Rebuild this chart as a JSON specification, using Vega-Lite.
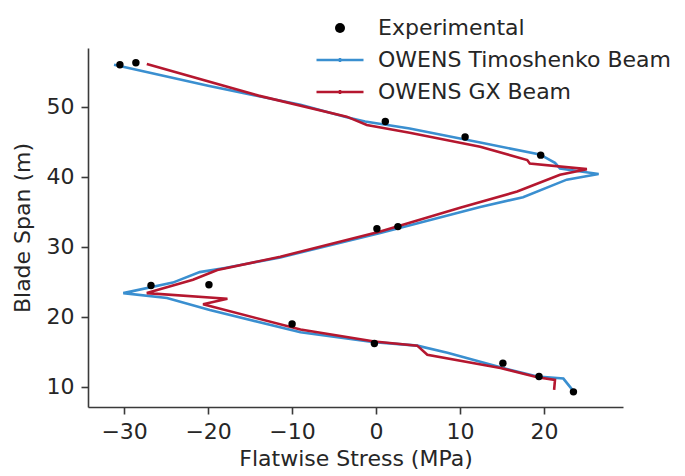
{
  "$schema": "https://vega.github.io/schema/vega-lite/v6.json",
  "width": 535,
  "height": 359,
  "autosize": "none",
  "padding": {"left": 88, "top": 48, "right": 62, "bottom": 69},
  "background": "white",
  "config": {
    "view": {"stroke": null},
    "font": "DejaVu Sans",
    "axis": {
      "grid": false,
      "domainColor": "#3a3a3a",
      "domainWidth": 1.6,
      "tickColor": "#3a3a3a",
      "tickWidth": 1.6,
      "tickSize": 7,
      "labelFontSize": 22,
      "labelColor": "#262626",
      "labelPadding": 7,
      "titleFontSize": 22,
      "titleFontWeight": "normal",
      "titleColor": "#262626"
    }
  },
  "datasets": {
    "exp": [
      {"stress": -30.5, "span": 56.0, "series": "Experimental"},
      {"stress": -28.6, "span": 56.3, "series": "Experimental"},
      {"stress": 1.1, "span": 47.9, "series": "Experimental"},
      {"stress": 10.6, "span": 45.7, "series": "Experimental"},
      {"stress": 19.6, "span": 43.1, "series": "Experimental"},
      {"stress": 0.1, "span": 32.6, "series": "Experimental"},
      {"stress": 2.6, "span": 32.9, "series": "Experimental"},
      {"stress": -26.8, "span": 24.5, "series": "Experimental"},
      {"stress": -19.9, "span": 24.6, "series": "Experimental"},
      {"stress": -10.0, "span": 19.0, "series": "Experimental"},
      {"stress": -0.2, "span": 16.2, "series": "Experimental"},
      {"stress": 15.1, "span": 13.4, "series": "Experimental"},
      {"stress": 19.4, "span": 11.5, "series": "Experimental"},
      {"stress": 23.5, "span": 9.3, "series": "Experimental"}
    ],
    "sim": [
      {"i": 1, "stress": -31.2, "span": 56.0, "series": "OWENS Timoshenko Beam"},
      {"i": 2, "stress": -20.0, "span": 53.0, "series": "OWENS Timoshenko Beam"},
      {"i": 3, "stress": -9.0, "span": 50.3, "series": "OWENS Timoshenko Beam"},
      {"i": 4, "stress": -3.5, "span": 48.5, "series": "OWENS Timoshenko Beam"},
      {"i": 5, "stress": -1.3, "span": 47.9, "series": "OWENS Timoshenko Beam"},
      {"i": 6, "stress": 4.0, "span": 46.9, "series": "OWENS Timoshenko Beam"},
      {"i": 7, "stress": 12.4, "span": 44.9, "series": "OWENS Timoshenko Beam"},
      {"i": 8, "stress": 19.5, "span": 43.2, "series": "OWENS Timoshenko Beam"},
      {"i": 9, "stress": 21.3, "span": 42.0, "series": "OWENS Timoshenko Beam"},
      {"i": 10, "stress": 21.9, "span": 41.2, "series": "OWENS Timoshenko Beam"},
      {"i": 11, "stress": 26.5, "span": 40.4, "series": "OWENS Timoshenko Beam"},
      {"i": 12, "stress": 22.7, "span": 39.6, "series": "OWENS Timoshenko Beam"},
      {"i": 13, "stress": 17.5, "span": 37.1, "series": "OWENS Timoshenko Beam"},
      {"i": 14, "stress": 12.4, "span": 35.7, "series": "OWENS Timoshenko Beam"},
      {"i": 15, "stress": 0.5, "span": 32.0, "series": "OWENS Timoshenko Beam"},
      {"i": 16, "stress": -11.4, "span": 28.5, "series": "OWENS Timoshenko Beam"},
      {"i": 17, "stress": -18.0, "span": 27.0, "series": "OWENS Timoshenko Beam"},
      {"i": 18, "stress": -21.0, "span": 26.4, "series": "OWENS Timoshenko Beam"},
      {"i": 19, "stress": -24.2, "span": 24.9, "series": "OWENS Timoshenko Beam"},
      {"i": 20, "stress": -30.1, "span": 23.4, "series": "OWENS Timoshenko Beam"},
      {"i": 21, "stress": -24.9, "span": 22.7, "series": "OWENS Timoshenko Beam"},
      {"i": 22, "stress": -19.8, "span": 21.0, "series": "OWENS Timoshenko Beam"},
      {"i": 23, "stress": -9.0, "span": 17.8, "series": "OWENS Timoshenko Beam"},
      {"i": 24, "stress": -0.2, "span": 16.4, "series": "OWENS Timoshenko Beam"},
      {"i": 25, "stress": 4.9, "span": 15.9, "series": "OWENS Timoshenko Beam"},
      {"i": 26, "stress": 8.5, "span": 14.9, "series": "OWENS Timoshenko Beam"},
      {"i": 27, "stress": 14.8, "span": 12.8, "series": "OWENS Timoshenko Beam"},
      {"i": 28, "stress": 19.2, "span": 11.5, "series": "OWENS Timoshenko Beam"},
      {"i": 29, "stress": 22.3, "span": 11.2, "series": "OWENS Timoshenko Beam"},
      {"i": 30, "stress": 23.5, "span": 9.4, "series": "OWENS Timoshenko Beam"},
      {"i": 1, "stress": -27.3, "span": 56.1, "series": "OWENS GX Beam"},
      {"i": 2, "stress": -14.0, "span": 51.6, "series": "OWENS GX Beam"},
      {"i": 3, "stress": -3.5, "span": 48.6, "series": "OWENS GX Beam"},
      {"i": 4, "stress": -1.1, "span": 47.4, "series": "OWENS GX Beam"},
      {"i": 5, "stress": 4.0, "span": 46.3, "series": "OWENS GX Beam"},
      {"i": 6, "stress": 12.4, "span": 44.3, "series": "OWENS GX Beam"},
      {"i": 7, "stress": 18.0, "span": 42.4, "series": "OWENS GX Beam"},
      {"i": 8, "stress": 18.3, "span": 41.9, "series": "OWENS GX Beam"},
      {"i": 9, "stress": 25.1, "span": 41.1, "series": "OWENS GX Beam"},
      {"i": 10, "stress": 21.9, "span": 40.3, "series": "OWENS GX Beam"},
      {"i": 11, "stress": 16.8, "span": 37.9, "series": "OWENS GX Beam"},
      {"i": 12, "stress": 10.0, "span": 35.6, "series": "OWENS GX Beam"},
      {"i": 13, "stress": 0.5, "span": 32.2, "series": "OWENS GX Beam"},
      {"i": 14, "stress": -11.4, "span": 28.6, "series": "OWENS GX Beam"},
      {"i": 15, "stress": -18.9, "span": 26.7, "series": "OWENS GX Beam"},
      {"i": 16, "stress": -21.8, "span": 25.3, "series": "OWENS GX Beam"},
      {"i": 17, "stress": -27.3, "span": 23.4, "series": "OWENS GX Beam"},
      {"i": 18, "stress": -17.7, "span": 22.6, "series": "OWENS GX Beam"},
      {"i": 19, "stress": -20.6, "span": 21.8, "series": "OWENS GX Beam"},
      {"i": 20, "stress": -9.0, "span": 18.2, "series": "OWENS GX Beam"},
      {"i": 21, "stress": -0.2, "span": 16.5, "series": "OWENS GX Beam"},
      {"i": 22, "stress": 4.9, "span": 15.9, "series": "OWENS GX Beam"},
      {"i": 23, "stress": 6.1, "span": 14.6, "series": "OWENS GX Beam"},
      {"i": 24, "stress": 14.8, "span": 12.7, "series": "OWENS GX Beam"},
      {"i": 25, "stress": 19.2, "span": 11.4, "series": "OWENS GX Beam"},
      {"i": 26, "stress": 21.3, "span": 11.0, "series": "OWENS GX Beam"},
      {"i": 27, "stress": 21.2, "span": 9.6, "series": "OWENS GX Beam"}
    ]
  },
  "encoding": {
    "x": {
      "field": "stress", "type": "quantitative",
      "scale": {"domain": [-34.3, 29.4], "nice": false, "zero": false},
      "axis": {"values": [-30, -20, -10, 0, 10, 20], "title": "Flatwise Stress (MPa)", "titlePadding": 6}
    },
    "y": {
      "field": "span", "type": "quantitative",
      "scale": {"domain": [7.14, 58.4], "nice": false, "zero": false},
      "axis": {"values": [10, 20, 30, 40, 50], "title": "Blade Span (m)", "titlePadding": 12}
    },
    "color": {
      "field": "series", "type": "nominal",
      "scale": {
        "domain": ["Experimental", "OWENS Timoshenko Beam", "OWENS GX Beam"],
        "range": ["black", "#3a8fd0", "#b5172f"]
      },
      "legend": {
        "title": null,
        "orient": "none",
        "legendX": 241,
        "legendY": -31,
        "padding": 0,
        "labelFontSize": 22,
        "labelColor": "#262626",
        "labelOffset": 27,
        "labelLimit": 0,
        "rowPadding": 10,
        "symbolSize": 100,
        "symbolStrokeWidth": 2.5,
        "encode": {
          "symbols": {
            "update": {
              "fill": {"signal": "datum.value === 'Experimental' ? 'black' : 'transparent'"},
              "stroke": {"scale": "color", "field": "value"},
              "strokeWidth": {"signal": "datum.value === 'Experimental' ? 0 : 2.5"},
              "opacity": {"value": 1}
            }
          }
        }
      }
    }
  },
  "layer": [
    {
      "data": {"name": "sim"},
      "mark": {"type": "line", "strokeWidth": 2.6},
      "encoding": {"order": {"field": "i", "type": "quantitative"}}
    },
    {
      "data": {"name": "exp"},
      "mark": {"type": "point", "filled": true, "size": 55, "opacity": 1},
      "encoding": {
        "shape": {
          "field": "series", "type": "nominal",
          "scale": {
            "domain": ["Experimental", "OWENS Timoshenko Beam", "OWENS GX Beam"],
            "range": ["circle", "M-4.7,0H4.7M0,-0.4V0.4", "M-4.7,0H4.7M0,-0.4V0.4"]
          },
          "legend": {
            "title": null,
            "orient": "none",
            "legendX": 241,
            "legendY": -31,
            "padding": 0,
            "labelFontSize": 22,
            "labelColor": "#262626",
            "labelOffset": 27,
            "labelLimit": 0,
            "rowPadding": 10,
            "symbolSize": 100,
            "symbolStrokeWidth": 2.5,
            "encode": {
              "symbols": {
                "update": {
                  "fill": {"signal": "datum.value === 'Experimental' ? 'black' : 'transparent'"},
                  "stroke": {"scale": "color", "field": "value"},
                  "strokeWidth": {"signal": "datum.value === 'Experimental' ? 0 : 2.5"},
                  "opacity": {"value": 1}
                }
              }
            }
          }
        }
      }
    }
  ]
}
